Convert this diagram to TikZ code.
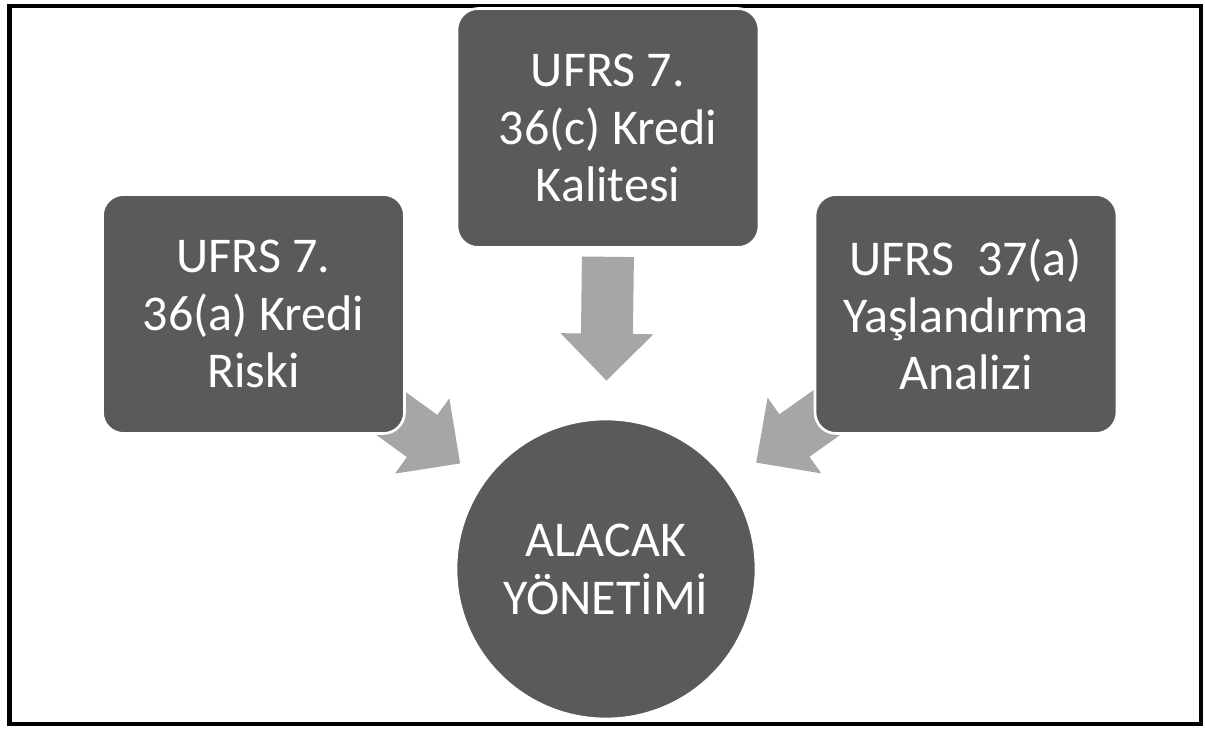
\documentclass[tikz,border=0pt]{standalone}
\usepackage{fontspec}
\setmainfont{Carlito}
\usetikzlibrary{arrows.meta,backgrounds}

\definecolor{boxgray}{HTML}{5A5A5A}
\definecolor{arrowgray}{HTML}{A6A6A6}

\tikzset{
    topic/.style={rectangle, rounded corners=12pt, fill=boxgray, draw=white,
        line width=1.5pt, text=white, minimum width=6.04cm, minimum height=4.78cm,
        align=center, font=\fontsize{28.5}{32.5}\selectfont},
    hub/.style={circle, fill=boxgray, draw=white, line width=1.5pt, text=white,
        minimum size=6cm, align=center, font=\fontsize{28.5}{33}\selectfont},
    flow/.style={draw=arrowgray, line width=1.04cm,
        -{Triangle[width=1.8cm, length=0.94cm]}}
}

\begin{document}
\begin{tikzpicture}[x=0.02cm, y=-0.02cm]

            \useasboundingbox (0,0) rectangle (1205,730);

            % frame
            \draw[line width=2.5pt] (9.5,6) rectangle (1201,724);

            % boxes
            \node[topic] (risk) at (253.5,314) {UFRS 7.\\36(a) Kredi\\Riski};
            \node[topic] (quality) at (608,128) {UFRS 7.\\36(c) Kredi\\Kalitesi};
            \node[topic] (aging) at (966,314) {UFRS~~37(a)\\Yaşlandırma\\Analizi};

            % centre
            \node[hub] (mgmt) at (606,569) {ALACAK\\YÖNETİMİ};

            % arrows
            \begin{scope}[on background layer]
                \draw[flow, shorten <=0.16cm, shorten >=0.74cm] (quality.south) -- (mgmt.north);
                \draw[flow, shorten <=3cm, shorten >=3.6cm] (risk.center) -- (mgmt.center);
                \draw[flow, shorten <=3cm, shorten >=3.68cm] (aging.center) -- (mgmt.center);
            \end{scope}

        \end{tikzpicture}
\end{document}
